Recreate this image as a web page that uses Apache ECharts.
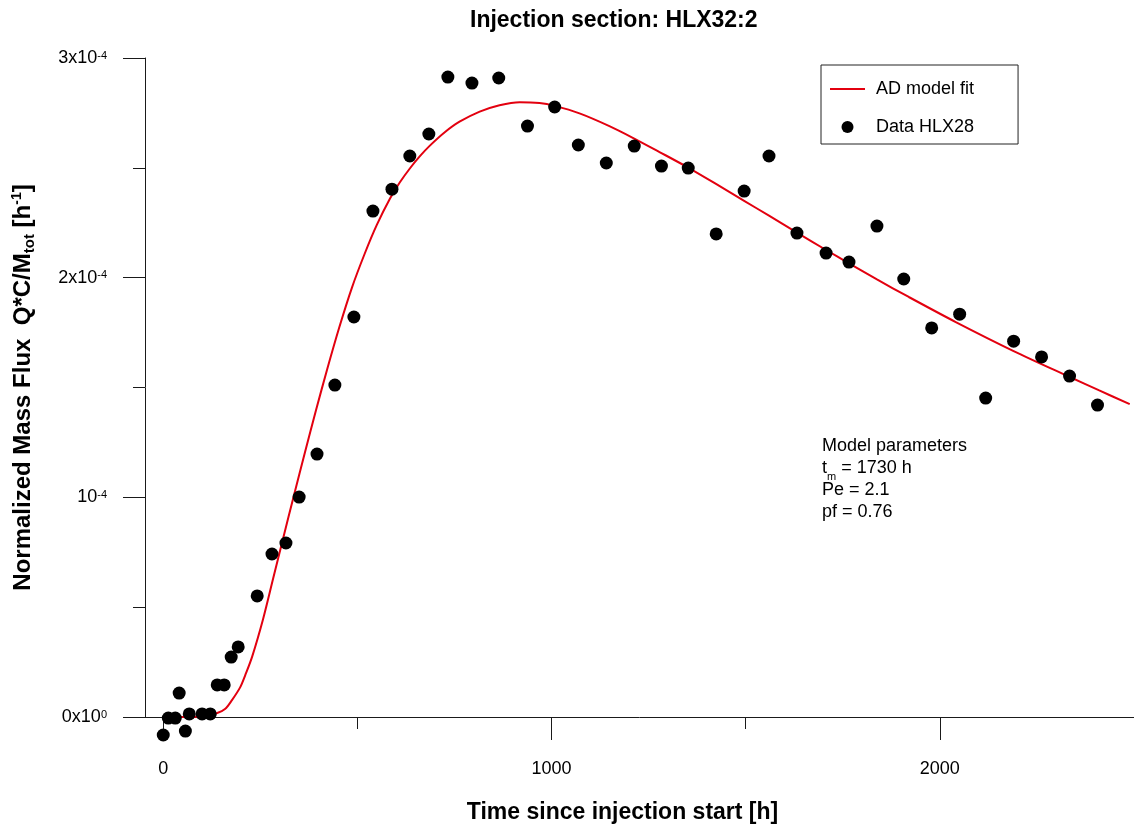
<!DOCTYPE html>
<html>
<head>
<meta charset="utf-8">
<title>Injection section: HLX32:2</title>
<script src="https://cdn.jsdelivr.net/npm/echarts@6/dist/echarts.min.js"></script>
<style>
  html, body { margin: 0; padding: 0; background: #ffffff; }
  #chart { width: 1134px; height: 828px; }
</style>
</head>
<body>
<div id="chart"></div>
<script>
// Fitted advection-dispersion curve: time [h], mass flux [1e-4 h^-1]
const fitTime = [0, 69, 108, 139, 159, 177, 198, 211, 229, 257, 283, 308, 337, 365, 393, 422, 453, 486, 519, 550,
  584, 609, 635, 661, 686, 725, 763, 815, 866, 918, 969, 1008, 1072, 1149, 1208, 1278, 1355, 1432, 1496, 1560,
  1632, 1707, 1766, 1838, 1920, 2041, 2190, 2332, 2409, 2489];
const fitFlux = [0, 0, 0.005, 0.018, 0.036, 0.077, 0.135, 0.190, 0.275, 0.445, 0.630, 0.808, 1.012, 1.205, 1.394, 1.582, 1.772, 1.955, 2.110, 2.240,
  2.360, 2.433, 2.497, 2.553, 2.600, 2.662, 2.710, 2.756, 2.785, 2.799, 2.795, 2.782, 2.748, 2.690, 2.638, 2.572, 2.498, 2.418, 2.350, 2.282,
  2.205, 2.126, 2.065, 1.992, 1.912, 1.798, 1.666, 1.550, 1.488, 1.424];

// Measured mass flux, HLX28: time [h], mass flux [1e-4 h^-1]
const obsTime = [0, 13, 31, 41, 57, 67, 100, 121, 139, 157, 175, 193, 242, 280, 316, 350, 396, 442, 491, 540,
  589, 635, 684, 733, 795, 864, 938, 1008, 1069, 1141, 1213, 1283, 1352, 1424, 1496, 1560, 1632, 1707, 1766, 1838,
  1907, 1979, 2051, 2118, 2190, 2262, 2334, 2406];
const obsFlux = [-0.082, -0.005, -0.005, 0.109, -0.064, 0.014, 0.014, 0.014, 0.146, 0.146, 0.273, 0.319, 0.551, 0.742, 0.792, 1.001, 1.197, 1.511, 1.821, 2.303,
  2.403, 2.554, 2.654, 2.913, 2.886, 2.909, 2.690, 2.777, 2.604, 2.522, 2.599, 2.508, 2.499, 2.199, 2.394, 2.554, 2.203, 2.112, 2.071, 2.235,
  1.994, 1.771, 1.834, 1.452, 1.711, 1.639, 1.552, 1.420];

// Axis ticks and labels
const xMajorTicks = [0, 1000, 2000];
const xMinorTicks = [500, 1500];
const yTickValues = [0, 1, 2, 3];
const yTickBase = ['0x10', '10', '2x10', '3x10'];
const yTickExp = ['0', '-4', '-4', '-4'];

// Fit parameters shown in the plot
const paramLines = ['Model parameters', 't{sub|m} = 1730 h', 'Pe = 2.1', 'pf = 0.76'];

const FONT = '"Liberation Sans", Arial, Helvetica, sans-serif';
const AXIS_COLOR = '#1a1a1a';
const FIT_COLOR = '#e3000f';

const chart = echarts.init(document.getElementById('chart'), null, { renderer: 'canvas' });

const option = {
  animation: false,
  backgroundColor: '#ffffff',
  textStyle: { fontFamily: FONT },
  title: {
    text: 'Injection section: HLX32:2',
    left: 470,
    top: 9,
    padding: 0,
    textStyle: { fontFamily: FONT, fontSize: 23, fontWeight: 'bold', color: '#000' }
  },
  grid: { left: 145, right: 0, top: 58, bottom: 111, containLabel: false, outerBoundsMode: 'none' },
  legend: {
    orient: 'vertical',
    left: 821,
    top: 65,
    padding: [15, 44, 8, 9],
    itemWidth: 35,
    itemHeight: 12,
    itemGap: 20,
    borderColor: '#222',
    borderWidth: 1,
    textStyle: { fontFamily: FONT, fontSize: 18, color: '#000', padding: [0, 0, 0, 6] },
    data: [
      { name: 'AD model fit', icon: 'path://M0,0H100V6H0Z' },
      { name: 'Data HLX28', icon: 'circle' }
    ]
  },
  xAxis: [
    {
      type: 'value',
      min: -47,
      max: 2500,
      position: 'bottom',
      splitLine: { show: false },
      axisLine: { show: true, onZero: false, lineStyle: { color: AXIS_COLOR, width: 1 } },
      axisTick: { show: true, customValues: xMajorTicks, length: 23, lineStyle: { color: AXIS_COLOR } },
      axisLabel: {
        customValues: xMajorTicks, margin: 43, fontSize: 18, color: '#000', fontFamily: FONT,
        formatter: v => String(v)
      },
      name: 'Time since injection start [h]',
      nameLocation: 'middle',
      nameGap: 84,
      nameTextStyle: { fontFamily: FONT, fontSize: 23, fontWeight: 'bold', color: '#000', padding: [0, 34, 0, 0] }
    },
    {
      type: 'value',
      min: -47,
      max: 2500,
      position: 'bottom',
      splitLine: { show: false },
      axisLine: { show: false, onZero: false },
      axisTick: { show: true, customValues: xMinorTicks, length: 12, lineStyle: { color: AXIS_COLOR } },
      axisLabel: { show: false }
    }
  ],
  yAxis: {
    type: 'value',
    min: 0,
    max: 3,
    interval: 1,
    position: 'left',
    splitLine: { show: false },
    axisLine: { show: true, onZero: false, lineStyle: { color: AXIS_COLOR, width: 1 } },
    axisTick: { show: true, length: 22, lineStyle: { color: AXIS_COLOR } },
    minorTick: { show: true, splitNumber: 2, length: 12, lineStyle: { color: AXIS_COLOR } },
    axisLabel: {
      margin: 38,
      fontSize: 18,
      color: '#000',
      fontFamily: FONT,
      formatter: v => {
        const i = yTickValues.indexOf(v);
        return i < 0 ? '' : yTickBase[i] + '{sup|' + yTickExp[i] + '}';
      },
      rich: { sup: { fontSize: 11, color: '#000', fontFamily: FONT, padding: [0, 0, 5, 0] } }
    },
    name: 'Normalized Mass Flux  Q*C/M{sub|tot} [h{sup|-1}]',
    nameLocation: 'middle',
    nameGap: 108,
    nameTextStyle: {
      fontFamily: FONT, fontSize: 24, fontWeight: 'bold', color: '#000',
      rich: {
        sub: { fontFamily: FONT, fontSize: 15, fontWeight: 'bold', color: '#000', padding: [12, 0, 0, 0] },
        sup: { fontFamily: FONT, fontSize: 14, fontWeight: 'bold', color: '#000', padding: [0, 0, 12, 0] }
      }
    }
  },
  series: [
    {
      name: 'AD model fit',
      type: 'line',
      data: fitTime.map((t, i) => [t, fitFlux[i]]),
      symbol: 'none',
      smooth: 0.3,
      lineStyle: { color: FIT_COLOR, width: 2 },
      itemStyle: { color: FIT_COLOR },
      z: 2
    },
    {
      name: 'Data HLX28',
      type: 'scatter',
      data: obsTime.map((t, i) => [t, obsFlux[i]]),
      symbol: 'circle',
      symbolSize: 13,
      clip: false,
      itemStyle: { color: '#000', opacity: 1 },
      z: 3
    }
  ],
  graphic: [
    {
      type: 'text',
      left: 822,
      top: 435,
      style: {
        text: paramLines.join('\n'),
        fontFamily: FONT,
        fontSize: 18,
        lineHeight: 22,
        fill: '#000',
        rich: { sub: { fontFamily: FONT, fontSize: 11, fill: '#000', padding: [18, 0, 0, 0] } }
      }
    }
  ]
};

chart.setOption(option);
</script>
</body>
</html>
